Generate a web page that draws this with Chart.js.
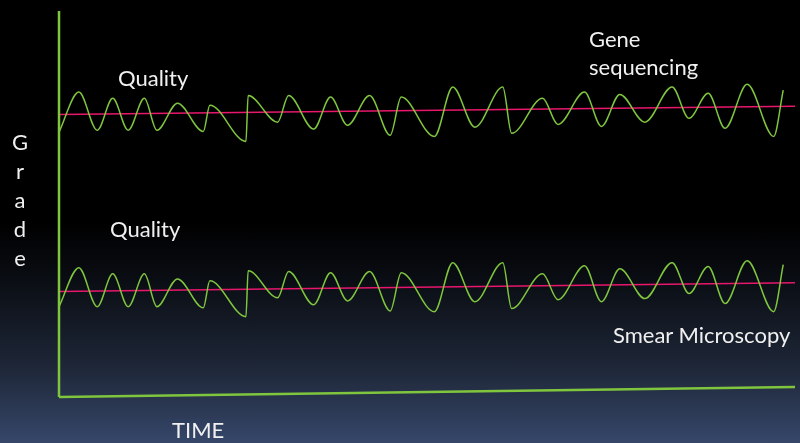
<!DOCTYPE html>
<html>
<head>
<meta charset="utf-8">
<script src="https://cdn.jsdelivr.net/npm/chart.js@4.4.1/dist/chart.umd.min.js"></script>
<style>
  html, body { margin: 0; padding: 0; }
  body {
    width: 800px; height: 443px; overflow: hidden; position: relative;
    background: linear-gradient(to bottom, #000 0%, #000 50%, #0a0d13 63%, #1e2738 83%, #36476a 100%);
    font-family: Lato, "Open Sans", sans-serif; color: #f0f0f0;
  }
  canvas { position: absolute; left: 0; top: 0; }
  .etiqueta { position: absolute; font-size: 22px; line-height: 22px; white-space: nowrap; }
  .grado { position: absolute; left: 10px; top: 127px; width: 20px; text-align: center;
           font-size: 22px; line-height: 29px; }
</style>
</head>
<body>
<canvas id="grafico" width="800" height="443"></canvas>
<div class="etiqueta" style="left:118px; top:67px">Quality</div>
<div class="etiqueta" style="left:110px; top:218px">Quality</div>
<div class="etiqueta" style="left:589px; top:28px">Gene</div>
<div class="etiqueta" style="left:589px; top:56px">sequencing</div>
<div class="etiqueta" style="left:613px; top:324px">Smear Microscopy</div>
<div class="etiqueta" style="left:172px; top:419px">TIME</div>
<div class="grado">G<br>r<br>a<br>d<br>e</div>
<script>
// Tiempo (0-100) de cada pico / valle de las ondas
const tiempo = [0, 2.7, 5.2, 7.3, 9.4, 11.6, 13.3, 16.1, 19.6, 20.5, 25.4, 25.7, 29.7, 31.2,
  34.6, 36.9, 39.2, 42.2, 45.0, 46.5, 51.0, 53.5, 56.5, 60.3, 61.5, 65.7, 67.8, 71.4,
  73.7, 76.2, 79.6, 83.3, 85.6, 88.2, 90.5, 93.5, 97.1, 98.4];

// Grado: secuenciación genética (arriba)
const calidadGen = [68.6, 79.0, 69.1, 77.4, 69.1, 77.4, 69.1, 76.1, 68.8, 75.6, 66.2, 78.1, 71.2, 78.1,
  69.4, 77.7, 70.4, 78.1, 67.8, 77.7, 67.5, 80.3, 69.9, 80.3, 68.3, 77.4, 70.6, 79.0,
  70.1, 78.4, 71.2, 80.3, 72.2, 78.7, 69.6, 81.0, 67.5, 79.5];

// Grado: microscopía de frotis (abajo)
const calidadFrotis = [23.4, 33.5, 23.4, 31.9, 23.4, 31.9, 23.4, 30.6, 23.1, 30.1, 20.8, 32.7, 25.7, 32.5,
  23.9, 32.2, 24.9, 32.5, 22.3, 32.2, 22.1, 34.8, 24.7, 34.8, 22.9, 31.9, 25.2, 34.0,
  24.7, 33.2, 25.5, 34.8, 26.8, 33.8, 24.2, 35.3, 22.1, 34.3];

// Tendencias y ejes
const tiempoTendencia = [0, 100];
const tendenciaGen = [73.2, 75.3];
const tendenciaFrotis = [27.3, 29.6];
const ejeTiempo = [0, 2.6];
const ejeGradoTiempo = [0, 0];
const ejeGrado = [0, 100];

const VERDE = "#7fc63e";
const ROSA = "#e8176d";

const puntos = (xs, ys) => xs.map((x, i) => ({ x: x, y: ys[i] }));

const onda = (valores) => ({
  data: puntos(tiempo, valores),
  borderColor: VERDE,
  borderWidth: 1.5,
  pointRadius: 0,
  cubicInterpolationMode: "monotone",
  clip: false,
});

const recta = (xs, ys, color, ancho) => ({
  data: puntos(xs, ys),
  borderColor: color,
  borderWidth: ancho,
  pointRadius: 0,
  clip: false,
});

new Chart(document.getElementById("grafico").getContext("2d"), {
  type: "line",
  data: {
    datasets: [
      recta(ejeGradoTiempo, ejeGrado, VERDE, 2.5),
      recta(tiempoTendencia, ejeTiempo, VERDE, 2.5),
      onda(calidadGen),
      onda(calidadFrotis),
      recta(tiempoTendencia, tendenciaGen, ROSA, 1.5),
      recta(tiempoTendencia, tendenciaFrotis, ROSA, 1.5),
    ],
  },
  options: {
    responsive: false,
    animation: false,
    layout: { padding: { left: 59, right: 5, top: 11, bottom: 46 } },
    plugins: { legend: { display: false }, tooltip: { enabled: false } },
    scales: {
      x: { type: "linear", min: 0, max: 100, display: false },
      y: { type: "linear", min: 0, max: 100, display: false },
    },
  },
});
</script>
</body>
</html>
